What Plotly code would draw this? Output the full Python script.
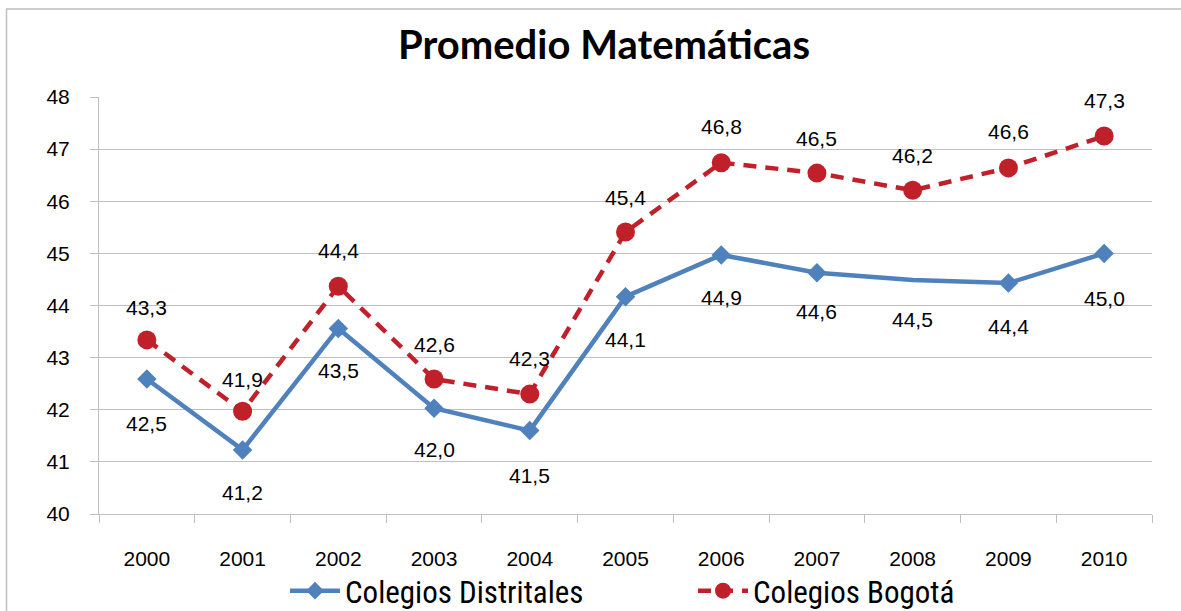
import plotly.graph_objects as go

# data
years = ["2000", "2001", "2002", "2003", "2004", "2005", "2006", "2007", "2008", "2009", "2010"]
distritales = [42.59, 41.23, 43.56, 42.03, 41.60, 44.17, 44.97, 44.63, 44.49, 44.43, 45.00]
bogota = [43.34, 41.97, 44.37, 42.59, 42.30, 45.41, 46.74, 46.54, 46.21, 46.64, 47.25]
distritales_labels = ["42,5", "41,2", "43,5", "42,0", "41,5", "44,1", "44,9", "44,6", "44,5", "44,4", "45,0"]
bogota_labels = ["43,3", "41,9", "44,4", "42,6", "42,3", "45,4", "46,8", "46,5", "46,2", "46,6", "47,3"]

BLUE = "#4F81BD"
RED = "#C0202A"
GRID = "#BFBFBF"
FONT = "Liberation Sans, Arial"
W, H = 1181, 611
L, R, T, B = 99, 29, 97, 97

# label offsets in px (below for distritales, above for bogota)
dist_shift = [-44, -43, -42, -41, -45, -43, -43, -39, -40, -43, -45]
bog_shift = [32, 32, 36, 35, 36, 35, 36, 35, 35, 36, 36]

fig = go.Figure()

fig.add_trace(
    go.Scatter(
        x=years,
        y=distritales,
        mode="lines+markers",
        name="Colegios Distritales",
        line=dict(color=BLUE, width=4.5),
        marker=dict(
            symbol="diamond",
            size=[15, 15, 15, 15, 15, 15, 15, 15, 0, 15, 15],
            color=BLUE,
            opacity=1,
            line=dict(width=0),
        ),
        hoverinfo="skip",
    )
)
fig.add_trace(
    go.Scatter(
        x=years,
        y=bogota,
        mode="lines+markers",
        name="Colegios Bogotá",
        line=dict(color=RED, width=4.5, dash="13px,9px"),
        marker=dict(symbol="circle", size=19, color=RED, opacity=1, line=dict(width=0)),
        hoverinfo="skip",
    )
)

# data labels, placed by category index on the category axis
annotations = []
for i, (v, txt, s) in enumerate(zip(distritales, distritales_labels, dist_shift)):
    annotations.append(
        dict(x=i, y=v, text=txt, showarrow=False, yshift=s,
             font=dict(family=FONT, size=21, color="#000"))
    )
for i, (v, txt, s) in enumerate(zip(bogota, bogota_labels, bog_shift)):
    annotations.append(
        dict(x=i, y=v, text=txt, showarrow=False, yshift=s,
             font=dict(family=FONT, size=21, color="#000"))
    )

pw = W - L - R
ph = H - T - B

fig.update_layout(
    width=W,
    height=H,
    margin=dict(l=L, r=R, t=T, b=B, autoexpand=False),
    paper_bgcolor="white",
    plot_bgcolor="white",
    title=dict(
        text="<b>Promedio Matemáticas</b>",
        x=604 / W,
        xanchor="center",
        y=1 - 45 / H,
        yanchor="middle",
        font=dict(family="Lato, Open Sans, sans-serif", size=40, color="#000"),
    ),
    xaxis=dict(
        type="category",
        categoryorder="array",
        categoryarray=years,
        range=[-0.5, len(years) - 0.5],
        showgrid=False,
        showline=True,
        linecolor=GRID,
        linewidth=1,
        ticks="outside",
        ticklen=8,
        tickcolor=GRID,
        tickson="boundaries",
        tickangle=0,
        ticklabelstandoff=26,
        tickfont=dict(family=FONT, size=21, color="#000"),
        fixedrange=True,
    ),
    yaxis=dict(
        range=[40, 48],
        dtick=1,
        showgrid=True,
        gridcolor=GRID,
        gridwidth=1,
        showline=True,
        linecolor=GRID,
        linewidth=1,
        ticks="outside",
        ticklen=8,
        tickcolor=GRID,
        ticklabelstandoff=16,
        zeroline=False,
        tickfont=dict(family=FONT, size=21, color="#000"),
        fixedrange=True,
    ),
    legend=dict(
        orientation="h",
        x=(285 - L) / pw,
        xanchor="left",
        y=(H - B - 591) / ph,
        yanchor="middle",
        font=dict(family="Liberation Sans Narrow, Roboto Condensed, Arial Narrow, sans-serif",
                  size=31, color="#000"),
        itemwidth=50,
        entrywidth=343,
        entrywidthmode="pixels",
        bgcolor="rgba(0,0,0,0)",
    ),
    annotations=annotations,
    shapes=[
        dict(
            type="rect",
            xref="paper",
            yref="paper",
            x0=(6.5 - L) / pw,
            x1=(W + 20 - L) / pw,
            y0=-(B + 20) / ph,
            y1=(H - B - 9) / ph,
            line=dict(color=GRID, width=1.5),
            fillcolor="rgba(0,0,0,0)",
            layer="below",
        )
    ],
)

fig.write_html(
    "out.html",
    config={"displayModeBar": False},
    post_script="document.body.style.margin='0';",
)
